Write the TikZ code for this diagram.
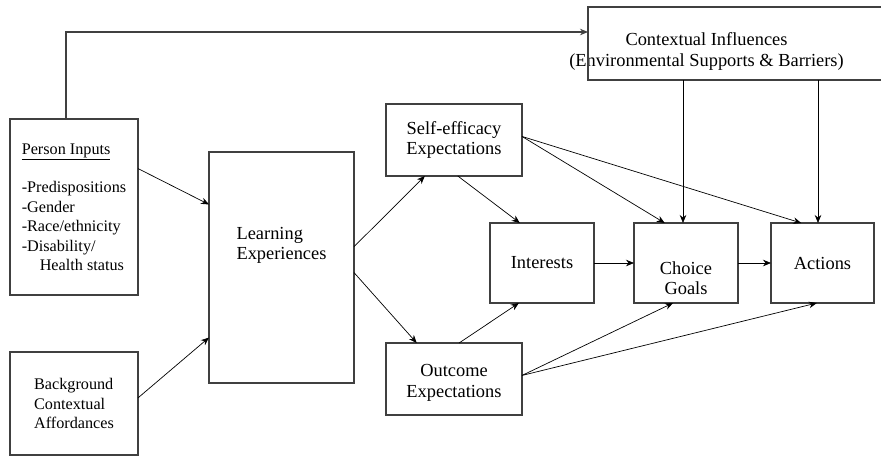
\documentclass[tikz,border=0pt]{standalone}
\usepackage{fontspec}
\setmainfont{Liberation Serif}
\usetikzlibrary{arrows.meta, positioning}

\begin{document}
\begin{tikzpicture}[
x=1pt, y=-1pt,
>=Stealth,
box/.style={rectangle, draw=black!75, line width=1.1pt, outer sep=0pt, align=center, font=\fontsize{18.4}{20.5}\selectfont},
smallbox/.style={box, align=left, font=\fontsize{16.2}{19.4}\selectfont},
lbl/.style={align=center, font=\fontsize{18.4}{20.5}\selectfont},
arrow/.style={-{Stealth[length=8pt, width=6.5pt]}, line width=0.7pt}
]

\useasboundingbox (0,0) rectangle (881,456);

\node[box, draw=none, minimum width=332pt, minimum height=73pt, label={[lbl, xshift=-47.5pt, yshift=-8pt]center:Contextual Influences\\(Environmental Supports \& Barriers)}] (ctx) at (754,43.5) {};
\draw[draw=black!75, line width=1.1pt] (ctx.north east) -- (ctx.north west) -- (ctx.south west) -- (ctx.south east);

\node[smallbox, minimum width=128pt, minimum height=176pt] (person) at (74,207) {\underline{Person Inputs}\\[19.4pt]-Predispositions\\-Gender\\-Race/ethnicity\\-Disability/\\\hspace*{18pt}Health status};
\node[smallbox, minimum width=128pt, minimum height=103pt, below=57pt of person] (background) {Background\\Contextual\\Affordances};

\node[box, minimum width=145pt, minimum height=231pt, label={[lbl, align=left, yshift=22pt]center:Learning\\Experiences}] (learning) at (281.5,267.5) {};

\node[box, minimum width=136pt, minimum height=72pt] (self) at (454,140) {Self-efficacy\\Expectations};
\node[box, minimum width=136pt, minimum height=72pt, below=167pt of self, label={[lbl, yshift=-4pt]center:Outcome\\Expectations}] (outcome) {};

\node[box, minimum width=104pt, minimum height=80pt] (interests) at (542,263) {Interests};
\node[box, minimum width=104pt, minimum height=80pt, right=40pt of interests, label={[lbl, yshift=-15pt]center:Choice\\Goals}] (choice) {};
\node[box, minimum width=103pt, minimum height=80pt, right=33pt of choice] (actions) {Actions};

\coordinate (corner) at (66,32);
\draw[arrow, draw=black!75, line width=1.1pt] (person.north -| corner) -- (corner) -- (corner -| ctx.west);

\draw[arrow] (person.31) -- (learning.139);
\draw[arrow] (background.5) -- (learning.224);
\draw[arrow] (learning.16) -- (self.231);
\draw[arrow] (learning.-4) -- (outcome.136);
\draw[arrow] (self.276) -- (interests.119);
\draw[arrow] (outcome.82) -- (interests.240);
\draw[arrow] (interests) -- (choice);
\draw[arrow] (choice) -- (actions);
\draw[arrow] (self.3) -- (choice.118);
\draw[arrow] (self.3) -- (actions.118);
\draw[arrow] (outcome.3) -- (choice.252);
\draw[arrow] (outcome.3) -- (actions.262);
\draw[arrow] ([xshift=-3pt]choice.north |- ctx.south) -- ([xshift=-3pt]choice.north);
\draw[arrow] ([xshift=-4.5pt]actions.north |- ctx.south) -- ([xshift=-4.5pt]actions.north);

\end{tikzpicture}
\end{document}
